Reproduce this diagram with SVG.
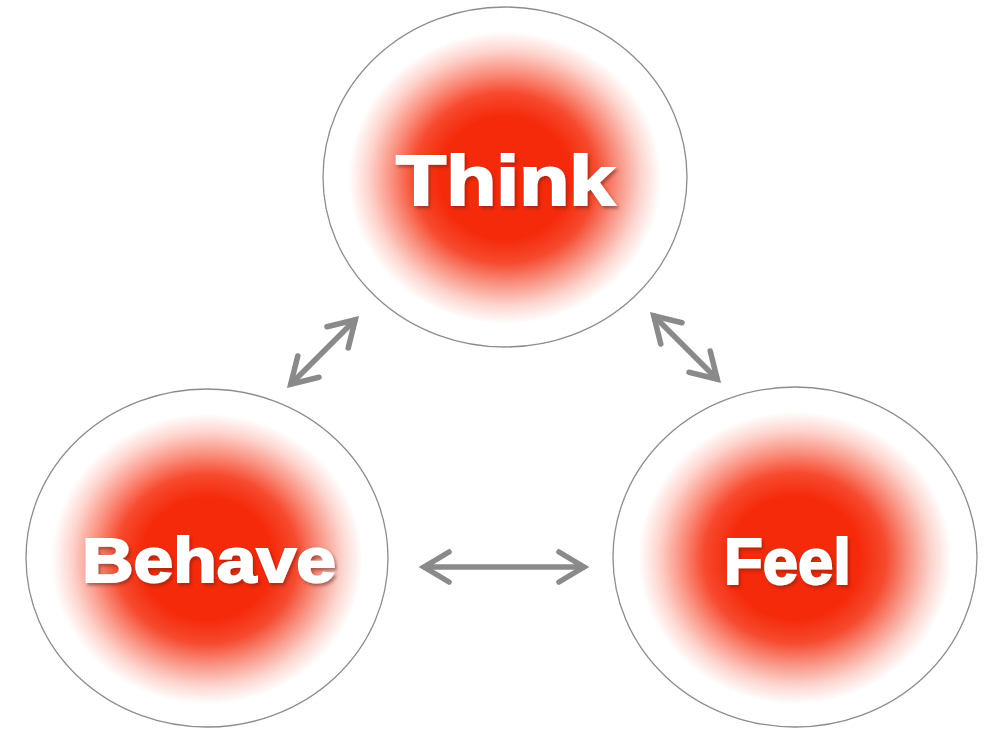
<svg xmlns="http://www.w3.org/2000/svg" width="992" height="730" viewBox="0 0 992 730">
  <defs>
    <style>
      .ring { stroke: #8c8c8c; stroke-width: 1.3; }
      .glow { fill: url(#redGlow); }
      .label { font-family: "Liberation Sans", Arial, Helvetica, sans-serif; font-weight: bold; fill: #ffffff; stroke: #ffffff; stroke-width: 2; text-anchor: start; filter: url(#textShadow); }
      .link { stroke: #8a8a8a; stroke-width: 5.5; fill: none; marker-start: url(#chevron); marker-end: url(#chevron); }
    </style>
    <radialGradient id="redGlow" cx="0.5" cy="0.5" r="0.5">
      <stop offset="0" stop-color="#f52a0a" stop-opacity="1"/>
      <stop offset="0.36" stop-color="#f52a0a" stop-opacity="1"/>
      <stop offset="0.5" stop-color="#f52a0a" stop-opacity="0.85"/>
      <stop offset="0.63" stop-color="#f52a0a" stop-opacity="0.5"/>
      <stop offset="0.75" stop-color="#f52a0a" stop-opacity="0.2"/>
      <stop offset="0.86" stop-color="#f52a0a" stop-opacity="0"/>
      <stop offset="1" stop-color="#f52a0a" stop-opacity="0"/>
    </radialGradient>
    <filter id="textShadow" x="-10%" y="-20%" width="120%" height="150%">
      <feDropShadow dx="2" dy="2.5" stdDeviation="1.6" flood-color="#4a2a25" flood-opacity="0.5"/>
    </filter>
    <marker id="chevron" markerUnits="userSpaceOnUse" viewBox="-34 -20 40 40" refX="0" refY="0" markerWidth="40" markerHeight="40" orient="auto-start-reverse">
      <path d="M -26 -15 L -1 0 L -26 15" fill="none" stroke="#8a8a8a" stroke-width="5.5" stroke-linejoin="miter" stroke-linecap="round"/>
    </marker>
  </defs>

  <rect width="992" height="730" fill="#ffffff"/>

  <!-- connectors -->
  <g id="connectors">
    <line class="link" x1="290" y1="385" x2="356" y2="319"/>
    <line class="link" x1="653" y1="315" x2="718" y2="380"/>
    <line class="link" x1="423" y1="567" x2="585" y2="567"/>
  </g>

  <!-- Think -->
  <g id="think">
    <ellipse class="glow" cx="505" cy="178" rx="182" ry="170"/>
    <ellipse class="ring" cx="505" cy="177" rx="182" ry="170" fill="none"/>
    <text class="label" x="396" y="205" font-size="70" textLength="219" lengthAdjust="spacingAndGlyphs">Think</text>
  </g>

  <!-- Behave -->
  <g id="behave">
    <ellipse class="glow" cx="207" cy="559" rx="181" ry="169"/>
    <ellipse class="ring" cx="207" cy="558" rx="181" ry="169" fill="none"/>
    <text class="label" x="82" y="582" font-size="63" textLength="254" lengthAdjust="spacingAndGlyphs">Behave</text>
  </g>

  <!-- Feel -->
  <g id="feel">
    <ellipse class="glow" cx="795" cy="558" rx="182" ry="170"/>
    <ellipse class="ring" cx="795" cy="557" rx="182" ry="170" fill="none"/>
    <text class="label" x="724" y="584" font-size="64" textLength="127" lengthAdjust="spacingAndGlyphs">Feel</text>
  </g>
</svg>
